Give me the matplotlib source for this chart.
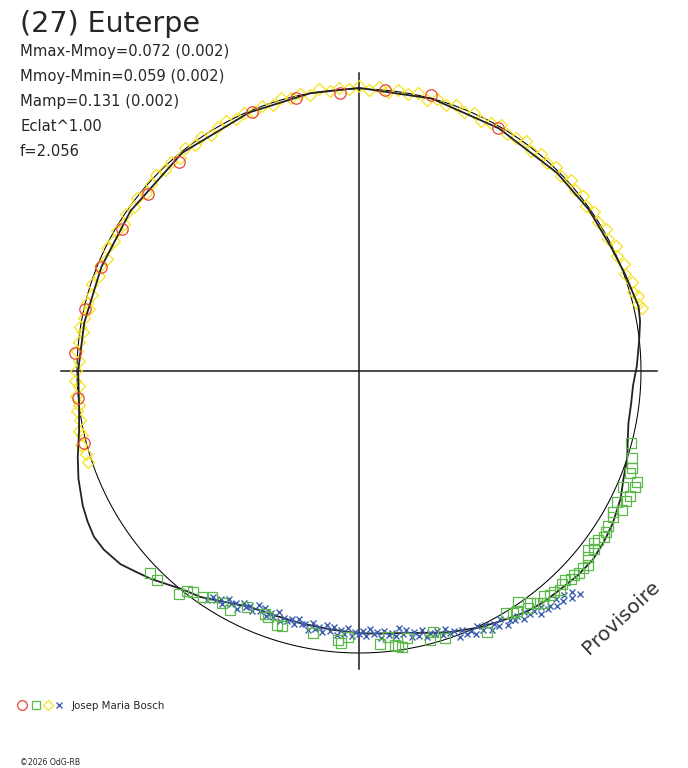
import numpy as np
import matplotlib.pyplot as plt
from matplotlib.lines import Line2D

plt.rcParams['font.family'] = ['DejaVu Sans']

# phase in degrees (clockwise from top), dm = magnitude minus mean magnitude
model_phase = [0, 15, 30, 45, 55, 64, 70, 77, 80, 84, 89, 93, 97, 101, 104, 108, 112, 116, 121, 125,
               129, 133, 137, 141, 145, 148, 151, 155, 161, 166, 171, 176, 180, 186, 193, 199, 205, 210, 215, 219,
               222, 225, 228, 231, 235, 238, 241, 244, 249, 253, 258, 263, 270, 280, 292, 305, 321, 337, 350, 360]
model_dm = [0.003, 0.000, -0.005, -0.005, -0.003, -0.003, 0.003, 0.013, 0.009, -0.001,
            -0.011, -0.020, -0.021, -0.020, -0.013, 0.000, 0.009, 0.024, 0.037, 0.044,
            0.049, 0.046, 0.040, 0.037, 0.030, 0.021, 0.013, 0.003, -0.015, -0.032,
            -0.044, -0.050, -0.052, -0.058, -0.061, -0.062, -0.058, -0.040, -0.016, -0.003,
            0.013, 0.032, 0.048, 0.066, 0.078, 0.081, 0.075, 0.067, 0.049, 0.032,
            0.011, 0.000, -0.003, -0.008, -0.011, -0.008, -0.003, -0.003, 0.000, 0.003]

red_phase = [255.3, 264.5, 273.6, 282.7, 291.9, 300.9, 310.0, 319.3, 337.6, 347.0, 356.1, 5.3, 14.6, 29.8]
red_dm = [0.006, 0.001, 0.007, -0.003, -0.010, -0.015, -0.017, -0.016, -0.005, -0.005, -0.009, 0.001, 0.008, -0.006]

green_phase = [104.8, 107.7, 109.6, 110.6, 111.8, 112.8, 113.7, 114.8, 116.0, 116.9, 117.9, 119.0, 119.9,
               121.9, 123.1, 124.1, 125.3, 126.2, 127.1, 128.0, 129.1, 130.3, 131.3, 132.6, 133.5, 134.5,
               135.4, 136.4, 137.5, 138.6, 139.5, 140.6, 141.6, 142.5, 143.6, 144.5, 145.5, 146.6, 147.5,
               148.7, 153.9, 162.1, 164.2, 165.2, 169.8, 171.1, 171.9, 172.5, 173.8, 175.6, 182.4, 183.8,
               184.5, 190.0, 196.8, 197.9, 200.3, 201.1, 205.4, 208.4, 210.6, 213.0, 214.6, 216.9, 218.0,
               218.9, 224.0, 226.0]
green_dm = [-0.002, 0.012, 0.020, 0.020, 0.046, 0.046, 0.017, 0.043, 0.040, 0.020, 0.041, 0.022, 0.029,
            0.030, 0.034, 0.037, 0.028, 0.024, 0.034, 0.023, 0.034, 0.048, 0.043, 0.044, 0.038, 0.040,
            0.030, 0.032, 0.040, 0.034, 0.033, 0.025, 0.037, 0.028, 0.016, 0.024, -0.004, 0.014, 0.013,
            0.003, 0.023, -0.004, -0.028, -0.010, -0.028, -0.007, -0.011, -0.015, -0.038, -0.022, -0.042, -0.025,
            -0.032, -0.042, -0.041, -0.040, -0.052, -0.057, -0.055, -0.028, -0.033, -0.033, -0.020, -0.015, -0.007,
            0.012, 0.023, 0.023]

yellow_phase = [251.5, 253, 255, 257, 258, 260, 262, 263, 265, 267, 268, 270, 272, 274, 276, 278, 279, 281,
                283, 284, 286, 288, 290, 292, 294, 296, 298, 300, 302, 304, 306, 308, 310, 312, 314, 316,
                318, 320, 322, 324, 326, 328, 330, 332, 334, 336, 338, 340, 342, 344, 346, 348, 350, 352,
                354, 356, 358, 0, 2, 4, 6, 8, 10, 12, 14, 16, 18, 20, 22, 24, 26, 28, 30, 32, 34, 36, 38,
                40, 42, 44, 46, 48, 50, 52, 54, 56, 58, 60, 62, 64, 66, 68, 70, 72, 74, 75, 76.5, 77.5]
yellow_dm = [0.010, 0.008, 0.015, 0.006, 0.012, 0.004, 0.008, 0.000, 0.005, -0.004, 0.006, 0.002, -0.006,
             0.003, -0.002, -0.010, 0.000, -0.006, -0.014, -0.004, -0.012, -0.002, -0.015, -0.008, -0.016,
             -0.004, -0.012, -0.006, -0.014, -0.003, -0.010, -0.002, -0.012, -0.005, 0.002, -0.008, -0.001,
             -0.010, 0.003, -0.006, 0.001, -0.009, -0.002, 0.004, -0.005, 0.002, -0.008, 0.001, -0.006,
             0.005, -0.003, 0.004, -0.004, 0.006, -0.002, 0.005, 0.000, 0.008, -0.002, 0.006, -0.004, 0.004,
             -0.003, 0.005, -0.006, 0.003, -0.005, 0.002, -0.008, 0.000, -0.010, -0.002, 0.004, -0.008,
             -0.001, 0.006, -0.006, 0.002, -0.004, 0.005, -0.002, 0.008, -0.001, 0.005, -0.005, 0.004,
             -0.002, 0.007, 0.000, 0.009, 0.002, 0.010, 0.004, 0.014, 0.008, 0.018, 0.012, 0.020]

blue_phase = [135.2, 136.0, 136.8, 137.6, 138.4, 139.2, 140.0, 140.8, 141.6, 142.4, 143.2, 144.0, 144.8,
              145.6, 146.4, 147.2, 148.0, 148.8, 149.6, 150.4, 151.2, 152.0, 152.8, 153.6, 154.4, 155.2,
              156.0, 156.8, 157.6, 158.4, 159.2, 160.0, 160.8, 161.6, 162.4, 163.2, 164.0, 164.8, 165.6,
              166.4, 167.2, 168.0, 168.8, 169.6, 170.4, 171.2, 172.0, 172.8, 173.6, 174.4, 175.2, 176.0,
              176.8, 177.6, 178.4, 179.2, 180.0, 180.8, 181.6, 182.4, 183.2, 184.0, 184.8, 185.6, 186.4,
              187.2, 188.0, 188.8, 189.6, 190.4, 191.2, 192.0, 192.8, 193.6, 194.4, 195.2, 196.0, 196.8,
              197.6, 198.4, 199.2, 200.0, 200.8, 201.6, 202.4, 203.2, 204.0, 204.8, 205.6, 206.4, 207.2,
              208.0, 208.8, 209.6, 210.4, 211.2, 212.0, 212.8, 213.6]
blue_dm = [0.084, 0.067, 0.079, 0.057, 0.066, 0.050, 0.067, 0.055, 0.058, 0.042, 0.058, 0.040, 0.041,
           0.027, 0.041, 0.025, 0.032, 0.024, 0.032, 0.009, 0.024, 0.012, 0.024, 0.004, 0.013, -0.003,
           0.015, 0.003, 0.006, -0.009, 0.006, -0.013, -0.013, -0.027, -0.012, -0.028, -0.021, -0.028, -0.020,
           -0.042, -0.027, -0.040, -0.028, -0.050, -0.041, -0.057, -0.038, -0.048, -0.043, -0.056, -0.038, -0.054,
           -0.050, -0.062, -0.045, -0.059, -0.050, -0.056, -0.045, -0.066, -0.049, -0.060, -0.046, -0.066, -0.055,
           -0.070, -0.050, -0.060, -0.054, -0.067, -0.048, -0.063, -0.060, -0.071, -0.054, -0.067, -0.058, -0.064,
           -0.053, -0.073, -0.056, -0.066, -0.052, -0.071, -0.059, -0.073, -0.052, -0.061, -0.053, -0.061, -0.039,
           -0.051, -0.044, -0.052, -0.032, -0.042, -0.031, -0.034, -0.020]

stats_lines = ['Mmax-Mmoy=0.072 (0.002)', 'Mmoy-Mmin=0.059 (0.002)', 'Mamp=0.131 (0.002)',
               'Eclat^1.00', 'f=2.056']

MAG_SCALE = 1.34   # radius units per magnitude, the circle is the mean magnitude
R_MAX = 1.2

RED = '#e8443a'
GREEN = '#5cb84a'
YELLOW = '#f7e31b'
BLUE = '#3d5fb0'
INK = '#262626'

W, H = 688, 768
CX, CY, UNIT = 359, 371, 282


def to_r(dm):
    return 1 + MAG_SCALE * np.asarray(dm)


def th(deg):
    return np.radians(deg)


fig = plt.figure(figsize=(W / 100, H / 100), dpi=100)
rad_px = R_MAX * UNIT
ax = fig.add_axes([(CX - rad_px) / W, (H - CY - rad_px) / H, 2 * rad_px / W, 2 * rad_px / H],
                  projection='polar')
ax.set_theta_zero_location('N')
ax.set_theta_direction(-1)
ax.set_ylim(0, R_MAX)
ax.set_axis_off()

# mean circle and cross
circ = np.linspace(0, 2 * np.pi, 721)
ax.plot(circ, np.ones_like(circ), color='black', lw=0.75, clip_on=False)
L = 1.055
ax.plot([0, 0, np.pi, np.pi], [L, 0, 0, L], color='#1a1a1a', lw=1.1, clip_on=False)
ax.plot([np.pi / 2, np.pi / 2, 3 * np.pi / 2, 3 * np.pi / 2], [L, 0, 0, L], color='#1a1a1a', lw=1.1,
        clip_on=False)

ax.plot(th(yellow_phase), to_r(yellow_dm), ls='none', marker='D', ms=6.2, mfc='none', mec=YELLOW,
        mew=0.9, clip_on=False)
ax.plot(th(model_phase), to_r(model_dm), color='#222222', lw=1.3, clip_on=False)
ax.plot(th(blue_phase), to_r(blue_dm), ls='none', marker='x', ms=5, mec=BLUE, mew=1.0, clip_on=False)
ax.plot(th(green_phase), to_r(green_dm), ls='none', marker='s', ms=6.5, mfc='none', mec=GREEN,
        mew=0.9, clip_on=False)
ax.plot(th(red_phase), to_r(red_dm), ls='none', marker='o', ms=8.2, mfc='none', mec=RED,
        mew=0.9, clip_on=False)

# texts
fig.text(20 / W, 1 - 32 / H, '(27) Euterpe', fontsize=20.5, color=INK, ha='left', va='baseline')
for i, line in enumerate(stats_lines):
    fig.text(20 / W, 1 - (56 + 25 * i) / H, line, fontsize=10.6, color=INK, ha='left', va='baseline')

fig.text(589 / W, 1 - 655 / H, 'Provisoire', fontsize=14.5, color='#333333', rotation=43,
         rotation_mode='anchor', ha='left', va='baseline')

# observers legend
leg_y = 1 - 705 / H
fig.add_artist(Line2D([22 / W], [leg_y], marker='o', ms=7, mfc='none', mec=RED, mew=0.9))
fig.add_artist(Line2D([36 / W], [leg_y], marker='s', ms=5.4, mfc='none', mec=GREEN, mew=0.9))
fig.add_artist(Line2D([48 / W], [leg_y], marker='D', ms=5, mfc='none', mec=YELLOW, mew=0.9))
fig.add_artist(Line2D([59 / W], [leg_y], marker='x', ms=5, mec=BLUE, mew=1.0))
fig.text(72 / W, 1 - 709 / H, 'Josep Maria Bosch', fontsize=7.4, color=INK, ha='left', va='baseline')

fig.text(20 / W, 1 - 765 / H, '\u00a92026 OdG-RB', fontsize=5.6, color=INK, ha='left', va='baseline')

fig.savefig('out.png', dpi=100)
